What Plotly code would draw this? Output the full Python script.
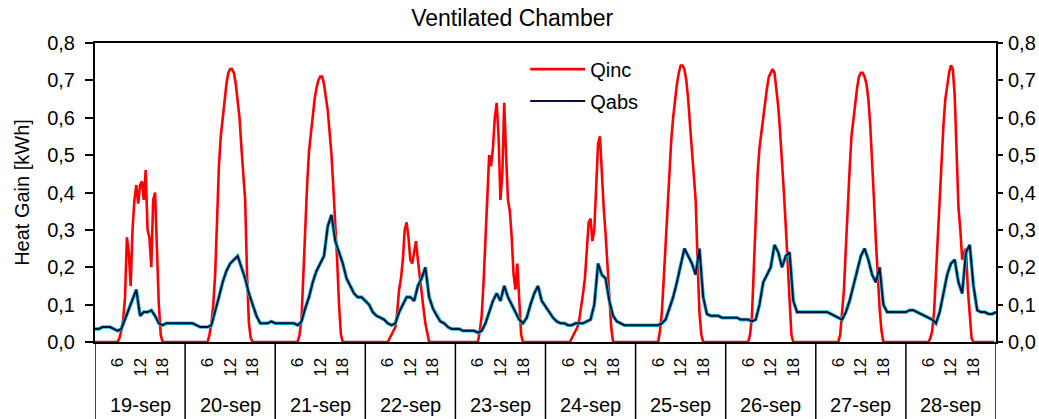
import numpy as np
import plotly.graph_objects as go

days = ["19-sep", "20-sep", "21-sep", "22-sep", "23-sep",
        "24-sep", "25-sep", "26-sep", "27-sep", "28-sep"]
hour_ticks = [6, 12, 18]

# Qinc, half-hourly values (00:00 ... 23:30) per day
qinc_19 = [0,0,0,0,0,0,0,0,0,0,0,0,0,
           0.01,0.03,0.06,0.12,0.28,0.24,0.15,0.30,0.38,0.42,0.37,0.42,
           0.43,0.38,0.46,0.30,0.28,0.20,0.38,0.40,0.25,0.10,0.02,0,
           0,0,0,0,0,0,0,0,0,0,0]
qinc_20 = [0,0,0,0,0,0,0,0,0,0,0,0,0,
           0.02,0.05,0.10,0.18,0.32,0.47,0.55,0.60,0.65,0.69,0.72,0.73,
           0.73,0.72,0.69,0.65,0.60,0.52,0.46,0.38,0.18,0.05,0.01,0,
           0,0,0,0,0,0,0,0,0,0,0]
qinc_21 = [0,0,0,0,0,0,0,0,0,0,0,0,0,
           0.02,0.06,0.18,0.31,0.42,0.51,0.56,0.60,0.65,0.68,0.70,0.71,
           0.71,0.69,0.66,0.62,0.56,0.50,0.41,0.32,0.22,0.10,0.02,0,
           0,0,0,0,0,0,0,0,0,0,0]
qinc_22 = [0,0,0,0,0,0,0,0,0,0,0,0,0,
           0.01,0.02,0.03,0.04,0.08,0.14,0.17,0.22,0.30,0.32,0.28,0.22,
           0.21,0.24,0.27,0.22,0.17,0.14,0.09,0.05,0.02,0,0,0,
           0,0,0,0,0,0,0,0,0,0,0]
qinc_23 = [0,0,0,0,0,0,0,0,0,0,0,0,0,
           0.03,0.07,0.16,0.29,0.42,0.50,0.47,0.52,0.60,0.64,0.55,0.38,
           0.45,0.64,0.50,0.38,0.35,0.28,0.18,0.14,0.21,0.10,0.02,0,
           0,0,0,0,0,0,0,0,0,0,0]
qinc_24 = [0,0,0,0,0,0,0,0,0,0,0,0,0,
           0,0.01,0.02,0.03,0.04,0.06,0.09,0.13,0.17,0.24,0.32,0.33,
           0.27,0.30,0.40,0.53,0.55,0.45,0.36,0.29,0.20,0.12,0.04,0,
           0,0,0,0,0,0,0,0,0,0,0]
qinc_25 = [0,0,0,0,0,0,0,0,0,0,0,0,0,
           0.03,0.08,0.17,0.27,0.37,0.45,0.54,0.60,0.65,0.69,0.72,0.74,
           0.74,0.73,0.70,0.65,0.58,0.51,0.44,0.38,0.22,0.08,0.02,0,
           0,0,0,0,0,0,0,0,0,0,0]
qinc_26 = [0,0,0,0,0,0,0,0,0,0,0,0,0,
           0.02,0.07,0.20,0.34,0.45,0.52,0.56,0.60,0.65,0.68,0.71,0.72,
           0.73,0.72,0.68,0.63,0.56,0.49,0.40,0.31,0.21,0.10,0.02,0,
           0,0,0,0,0,0,0,0,0,0,0]
qinc_27 = [0,0,0,0,0,0,0,0,0,0,0,0,0,
           0.02,0.07,0.14,0.25,0.37,0.46,0.55,0.60,0.65,0.68,0.71,0.72,
           0.72,0.71,0.69,0.65,0.58,0.49,0.38,0.27,0.17,0.09,0.03,0,
           0,0,0,0,0,0,0,0,0,0,0]
qinc_28 = [0,0,0,0,0,0,0,0,0,0,0,0,0,
           0.01,0.03,0.08,0.18,0.27,0.38,0.49,0.58,0.65,0.69,0.72,0.74,
           0.73,0.66,0.50,0.36,0.30,0.22,0.24,0.25,0.14,0.06,0.01,0,
           0,0,0,0,0,0,0,0,0,0,0]

# Qabs, hourly values (00 ... 23) per day
qabs_19 = [0.035,0.035,0.04,0.04,0.04,0.035,0.03,0.035,0.06,0.09,0.11,0.14,
           0.07,0.08,0.08,0.085,0.07,0.05,0.045,0.05,0.05,0.05,0.05,0.05]
qabs_20 = [0.05,0.05,0.05,0.045,0.04,0.04,0.04,0.045,0.08,0.12,0.16,0.19,
           0.21,0.22,0.23,0.20,0.17,0.13,0.10,0.07,0.05,0.05,0.05,0.055]
qabs_21 = [0.05,0.05,0.05,0.05,0.05,0.05,0.045,0.055,0.09,0.12,0.16,0.19,
           0.21,0.23,0.31,0.34,0.27,0.24,0.21,0.17,0.15,0.13,0.12,0.12]
qabs_22 = [0.11,0.10,0.08,0.07,0.065,0.06,0.05,0.045,0.05,0.08,0.10,0.12,
           0.12,0.11,0.15,0.17,0.20,0.12,0.09,0.07,0.055,0.05,0.04,0.035]
qabs_23 = [0.035,0.035,0.03,0.03,0.03,0.03,0.025,0.03,0.05,0.08,0.11,0.13,
           0.11,0.15,0.12,0.10,0.08,0.06,0.05,0.065,0.10,0.13,0.15,0.11]
qabs_24 = [0.095,0.08,0.065,0.055,0.05,0.05,0.045,0.045,0.05,0.05,0.05,0.055,
           0.06,0.10,0.21,0.18,0.17,0.11,0.07,0.055,0.05,0.045,0.045,0.045]
qabs_25 = [0.045,0.045,0.045,0.045,0.045,0.045,0.045,0.05,0.06,0.09,0.12,0.16,
           0.21,0.25,0.23,0.21,0.18,0.25,0.12,0.075,0.07,0.07,0.07,0.065]
qabs_26 = [0.065,0.065,0.065,0.065,0.06,0.06,0.06,0.055,0.06,0.10,0.16,0.18,
           0.20,0.26,0.24,0.20,0.23,0.24,0.11,0.08,0.08,0.08,0.08,0.08]
qabs_27 = [0.08,0.08,0.08,0.08,0.075,0.07,0.065,0.06,0.08,0.11,0.15,0.19,
           0.23,0.25,0.22,0.18,0.16,0.20,0.10,0.08,0.08,0.08,0.08,0.08]
qabs_28 = [0.08,0.085,0.085,0.08,0.075,0.07,0.065,0.06,0.05,0.08,0.13,0.18,
           0.21,0.22,0.16,0.13,0.24,0.26,0.15,0.085,0.08,0.08,0.075,0.075]
qabs_end = [0.08]

qinc_days = [qinc_19, qinc_20, qinc_21, qinc_22, qinc_23,
             qinc_24, qinc_25, qinc_26, qinc_27, qinc_28]
qabs_days = [qabs_19, qabs_20, qabs_21, qabs_22, qabs_23,
             qabs_24, qabs_25, qabs_26, qabs_27, qabs_28]
for d in qinc_days:
    assert len(d) == 48, len(d)
for d in qabs_days:
    assert len(d) == 24, len(d)

qinc = [v for d in qinc_days for v in d]
qabs = [v for d in qabs_days for v in d] + qabs_end
t_inc = np.arange(len(qinc)) * 0.5
t_abs = np.arange(len(qabs)) * 1.0

FONT = "Liberation Sans, Arial, sans-serif"

fig = go.Figure()
fig.add_trace(go.Scatter(x=t_inc, y=qinc, mode="lines", name="Qinc",
                         line=dict(color="#ff0000", width=2.6),
                         legendgroup="a"))
fig.add_trace(go.Scatter(x=t_abs, y=qabs, mode="lines", name="Qabs",
                         line=dict(color="#17c2d6", width=3.6),
                         legendgroup="b", showlegend=False, hoverinfo="skip"))
fig.add_trace(go.Scatter(x=t_abs, y=qabs, mode="lines", name="Qabs",
                         line=dict(color="#0a0f3c", width=2.0),
                         legendgroup="b"))

tickvals = [i * 24 + h for i in range(len(days)) for h in hour_ticks]
ticktext = [str(h) for i in range(len(days)) for h in hour_ticks]

fig.update_layout(
    width=1039, height=419,
    margin=dict(l=95, r=43, t=43, b=77),
    paper_bgcolor="white", plot_bgcolor="white",
    separators=", ",
    font=dict(family=FONT, color="black", size=20),
    title=dict(text="Ventilated Chamber", font=dict(size=23, color="black"),
               x=0.493, xref="container", xanchor="center",
               y=1 - 18 / 419, yref="container", yanchor="middle"),
    showlegend=True,
    legend=dict(x=0.4775, y=0.978, xanchor="left", yanchor="top",
                bgcolor="rgba(0,0,0,0)", font=dict(size=20),
                tracegroupgap=3, itemwidth=55),
    xaxis=dict(range=[0, 240], tickvals=tickvals, ticktext=ticktext,
               tickangle=-90, ticks="", tickfont=dict(size=17),
               showline=True, linecolor="black", linewidth=2, mirror=True,
               showgrid=False, zeroline=False, ticklabelstandoff=7,
               automargin=False),
    yaxis=dict(range=[0, 0.8], dtick=0.1, tickformat=".1f",
               ticks="outside", ticklen=8, tickwidth=1.5, tickcolor="black",
               showline=True, linecolor="black", linewidth=2,
               showgrid=False, zeroline=False, tickfont=dict(size=20),
               ticklabelstandoff=6, automargin=False,
               title=dict(text="Heat Gain [kWh]", font=dict(size=20),
                          standoff=12)),
    yaxis2=dict(range=[0, 0.8], dtick=0.1, tickformat=".1f",
                overlaying="y", side="right", anchor="x",
                ticks="outside", ticklen=5, tickwidth=1.5, tickcolor="black",
                showline=True, linecolor="black", linewidth=2,
                showgrid=False, zeroline=False, tickfont=dict(size=20),
                ticklabelstandoff=1, automargin=False),
)

# invisible trace to activate the right axis
fig.add_trace(go.Scatter(x=[0], y=[0], yaxis="y2", mode="markers",
                         marker=dict(opacity=0), showlegend=False,
                         hoverinfo="skip"))

shapes = []
for i in range(len(days) + 1):
    shapes.append(dict(type="line", xref="x", yref="paper",
                       x0=i * 24, x1=i * 24, y0=0, y1=-0.27,
                       line=dict(color="black", width=1.5)))
fig.update_layout(shapes=shapes)

for i, d in enumerate(days):
    fig.add_annotation(x=i * 24 + 12, y=-0.211, xref="x", yref="paper",
                       text=d, showarrow=False, font=dict(size=20),
                       xanchor="center", yanchor="middle")

fig.write_html("out.html")
